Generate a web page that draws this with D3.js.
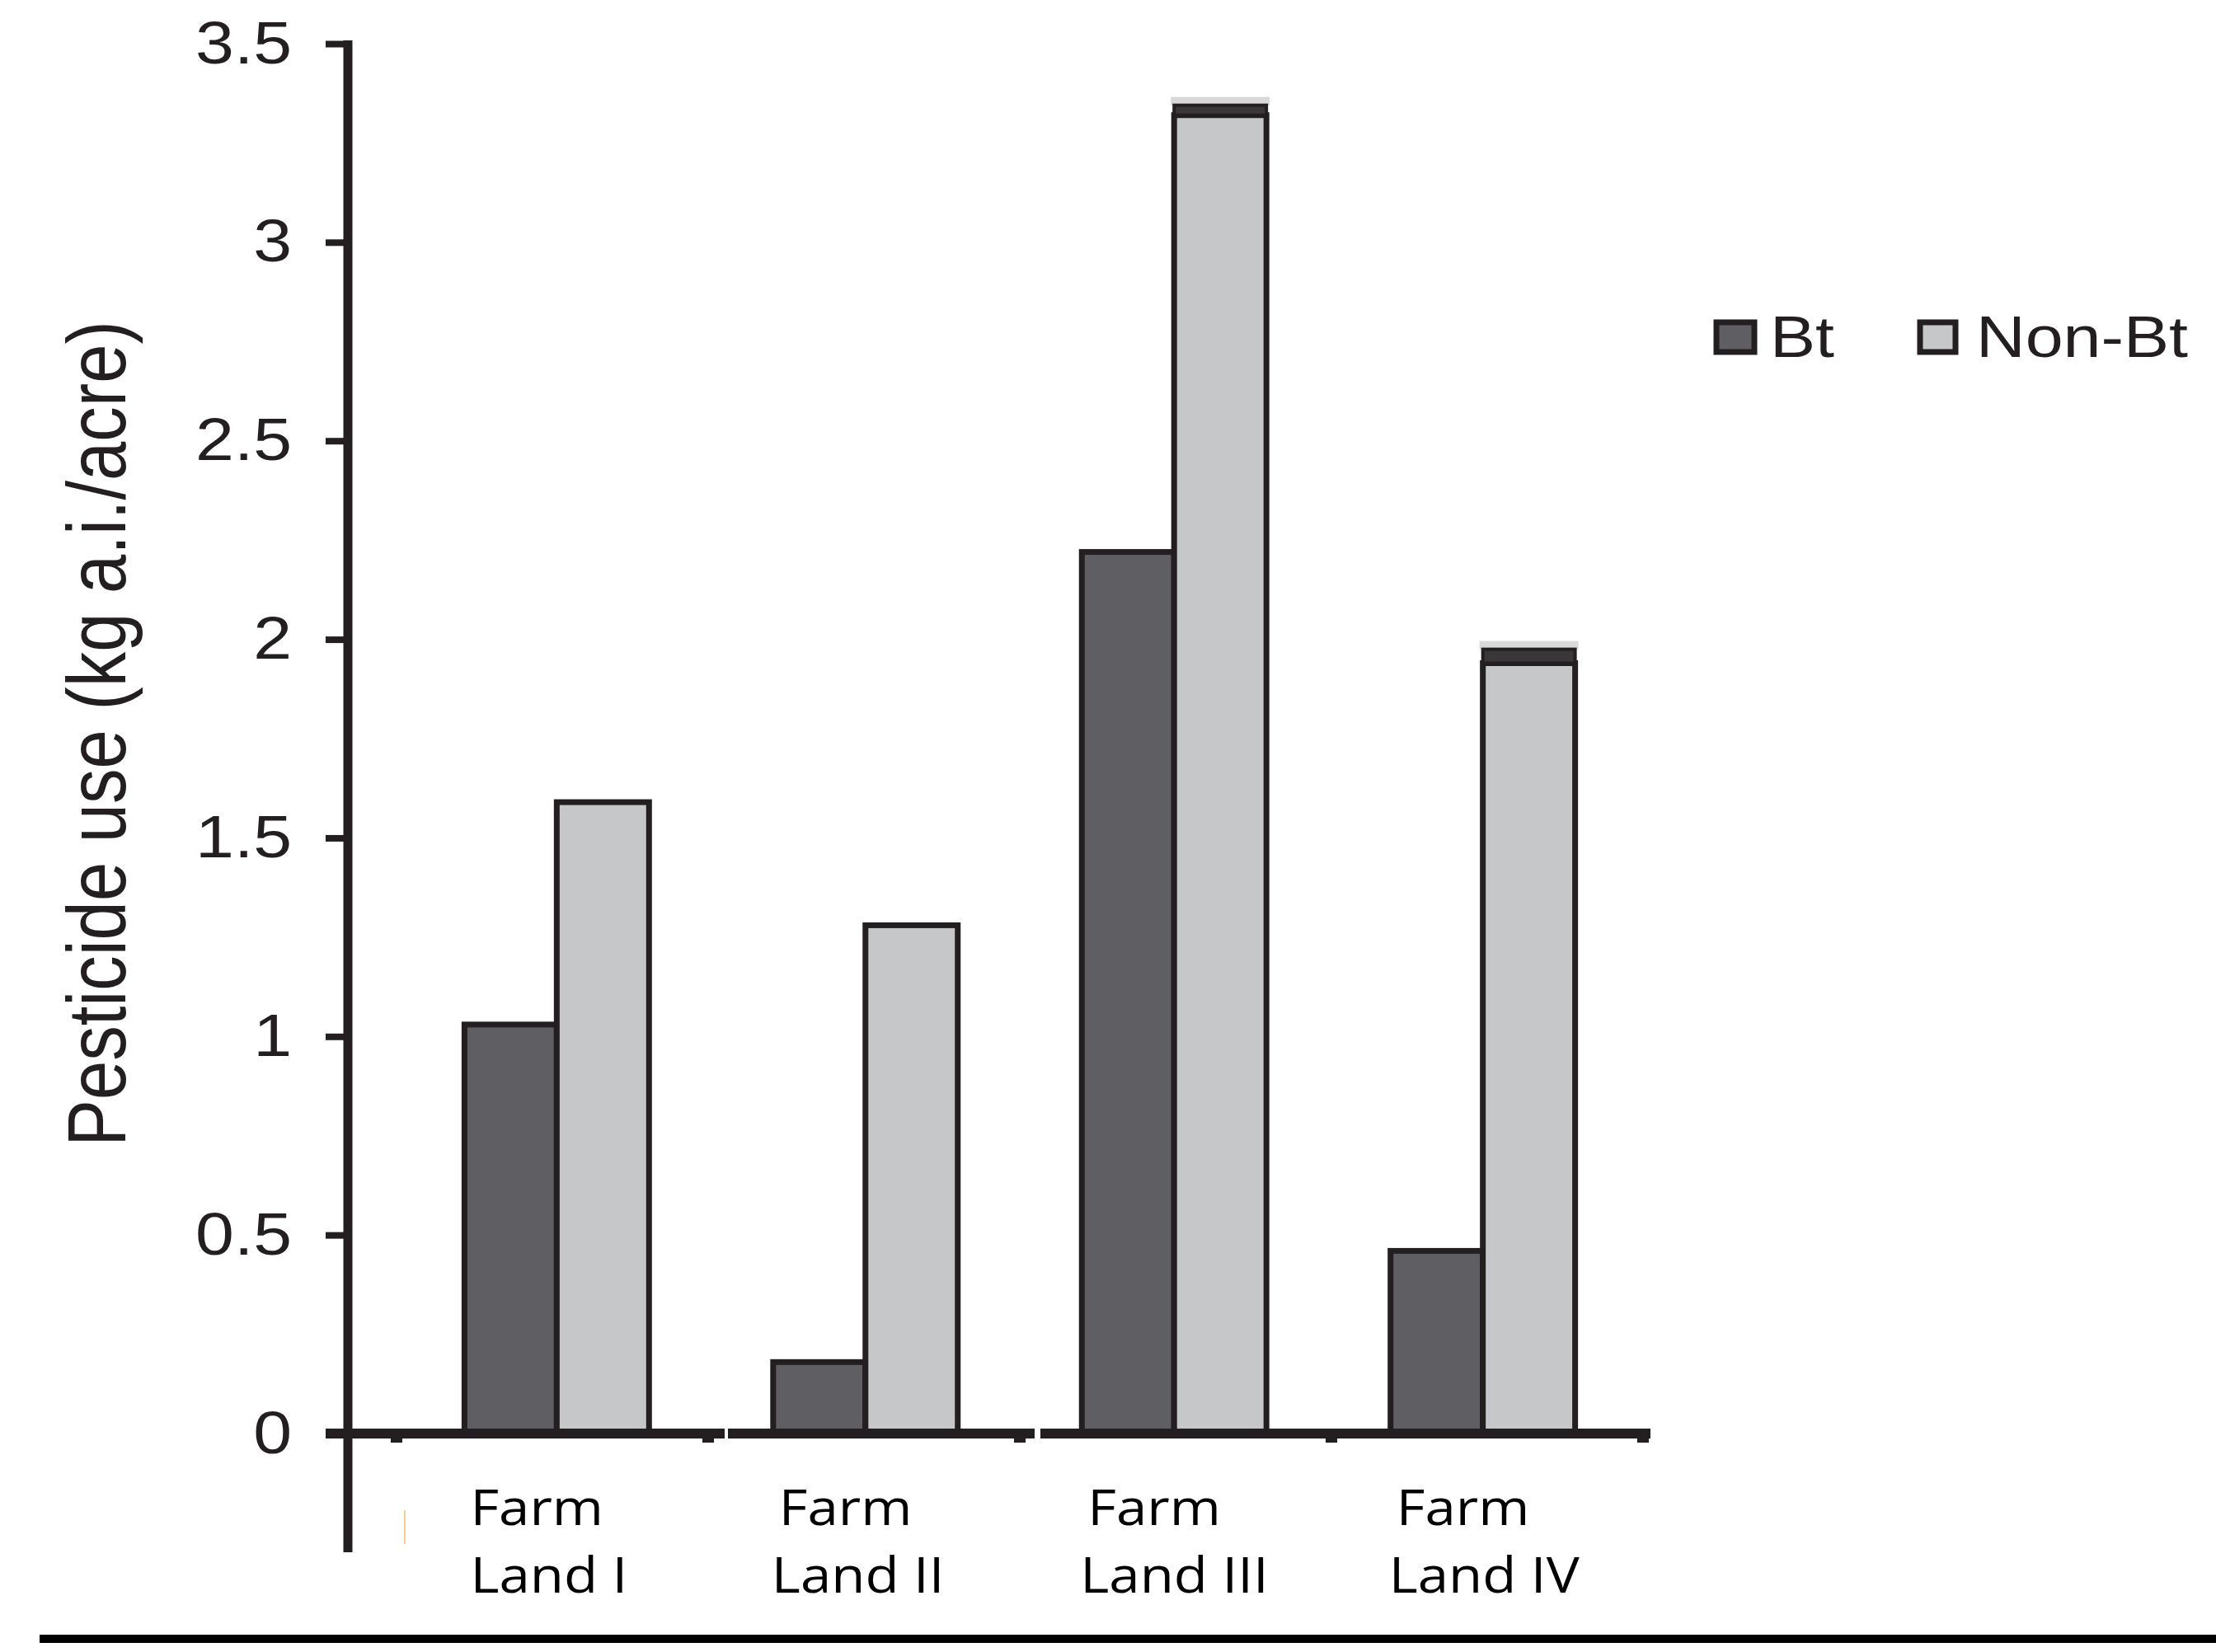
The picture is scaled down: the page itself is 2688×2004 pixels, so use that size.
<!DOCTYPE html>
<html><head><meta charset="utf-8">
<script src="https://cdn.jsdelivr.net/npm/d3@7"></script>
<style>html,body{margin:0;padding:0;background:#fff;}</style>
</head><body>
<svg id="chart" width="2688" height="2004"></svg>
<script>
// ---- data ----
const categories = ["Farm Land I", "Farm Land II", "Farm Land III", "Farm Land IV"];
const catLine1 = ["Farm", "Farm", "Farm", "Farm"];
const catLine2 = ["Land I", "Land II", "Land III", "Land IV"];
const seriesNames = ["Bt", "Non-Bt"];
const btValues = [1.03, 0.18, 2.22, 0.46];
const nonBtValues = [1.59, 1.28, 3.32, 1.94];
const nonBtCapValues = [0, 0, 0.025, 0.035];
const yTickValues = [0, 0.5, 1, 1.5, 2, 2.5, 3, 3.5];
const yTickLabels = ["0", "0.5", "1", "1.5", "2", "2.5", "3", "3.5"];
const yTitle = "Pesticide use (kg a.i./acre)";

// ---- style ----
const INK = "#231f20";
const BT_FILL = "#5f5e63";
const NONBT_FILL = "#c6c7c9";
const STRETCH = 1.18;

const svg = d3.select("#chart");
svg.append("rect").attr("width", 2688).attr("height", 2004).attr("fill", "#fff");

const y = d3.scaleLinear().domain([0, 3.5]).range([1739, 53]);
const x0 = d3.scaleBand().domain(categories).range([481, 1993]).paddingInner(0.402).paddingOuter(0.22);
const x1 = d3.scaleBand().domain(seriesNames).range([0, x0.bandwidth()]).padding(0);

const rows = categories.map((c, i) => ({ c, i, bt: btValues[i], nb: nonBtValues[i], cap: nonBtCapValues[i], l1: catLine1[i], l2: catLine2[i] }));

// ---- bars ----
const gBars = svg.append("g");
const grp = gBars.selectAll("g.grp").data(rows).enter().append("g")
  .attr("transform", d => `translate(${x0(d.c)},0)`);

grp.append("rect")
  .attr("x", x1("Bt")).attr("width", x1.bandwidth())
  .attr("y", d => y(d.bt)).attr("height", d => y(0) - y(d.bt))
  .attr("fill", BT_FILL).attr("stroke", INK).attr("stroke-width", 7);

grp.append("rect")
  .attr("x", x1("Non-Bt")).attr("width", x1.bandwidth())
  .attr("y", d => y(d.nb)).attr("height", d => y(0) - y(d.nb))
  .attr("fill", NONBT_FILL).attr("stroke", INK).attr("stroke-width", 7);

// dark cap segments on some Non-Bt bars
const capped = grp.filter(d => d.cap > 0);
capped.append("rect")
  .attr("x", x1("Non-Bt") - 4).attr("width", x1.bandwidth() + 8)
  .attr("y", d => y(d.nb + d.cap) - 10).attr("height", 10)
  .attr("fill", "#d9d9d9");
capped.append("rect")
  .attr("x", x1("Non-Bt")).attr("width", x1.bandwidth())
  .attr("y", d => y(d.nb + d.cap)).attr("height", d => y(d.nb) - y(d.nb + d.cap))
  .attr("fill", "#3a3738").attr("stroke", INK).attr("stroke-width", 4);

// ---- y axis ----
const yAxis = d3.axisLeft(y).tickValues(yTickValues).tickFormat((d, i) => yTickLabels[i])
  .tickSize(27).tickPadding(31);
const gy = svg.append("g").attr("transform", "translate(422,0)").call(yAxis);
gy.select(".domain").remove();
gy.selectAll(".tick line").attr("stroke", INK).attr("stroke-width", 8);
gy.selectAll(".tick text")
  .attr("font-family", "'Liberation Sans', Arial, sans-serif")
  .attr("font-size", 72).attr("fill", INK)
  .attr("transform", `scale(${1.17},1)`);
svg.append("line").attr("x1", 422).attr("x2", 422).attr("y1", 49).attr("y2", 1883)
  .attr("stroke", INK).attr("stroke-width", 11);

// ---- x axis (broken line segments) ----
const [r0, r1] = x0.range();
const quarter = (r1 - r0) / categories.length;
const boundaries = d3.range(categories.length + 1).map(i => r0 + i * quarter);
const segStarts = [395, boundaries[1] + 24, boundaries[2] + 25];
const segEnds = [boundaries[1] + 20, boundaries[2] + 18, 2002];
segStarts.forEach((s, i) => {
  svg.append("line").attr("x1", s).attr("x2", segEnds[i]).attr("y1", 1739).attr("y2", 1739)
    .attr("stroke", INK).attr("stroke-width", 12);
});
svg.selectAll("rect.xt").data(boundaries).enter().append("rect").attr("class", "xt")
  .attr("x", d => d - 7).attr("y", 1744).attr("width", 14).attr("height", 6).attr("fill", INK);

// ---- x labels ----
const LABEL_STRETCH = 1.12;
const gLab = svg.append("g");
const lab = gLab.selectAll("g").data(rows).enter().append("g");
lab.append("g")
  .attr("transform", d => `translate(${x0(d.c) + 7},1850) scale(${LABEL_STRETCH},1)`)
  .append("text")
  .attr("font-family", "'Open Sans', 'Noto Sans', sans-serif").attr("font-size", 60)
  .attr("fill", "#000").text(d => d.l1);
lab.append("g")
  .attr("transform", d => `translate(${x0(d.c) + (d.i === 0 ? 7 : -2)},1932) scale(${LABEL_STRETCH},1)`)
  .append("text")
  .attr("font-family", "'Open Sans', 'Noto Sans', sans-serif").attr("font-size", 60)
  .attr("fill", "#000").text(d => d.l2);

// stray mark near origin
svg.append("line").attr("x1", 491).attr("x2", 491).attr("y1", 1832).attr("y2", 1873)
  .attr("stroke", "#f5d08a").attr("stroke-width", 2);

// ---- y title ----
svg.append("g").attr("transform", `translate(152,890) scale(${STRETCH},1) rotate(-90)`)
  .append("text").attr("text-anchor", "middle")
  .attr("font-family", "'Liberation Sans', Arial, sans-serif").attr("font-size", 85)
  .attr("fill", INK).text(yTitle);

// ---- legend ----
const legendItems = [
  { name: seriesNames[0], fill: BT_FILL, bx: 2082, bw: 46, tx: 2147 },
  { name: seriesNames[1], fill: NONBT_FILL, bx: 2329, bw: 43, tx: 2397 }
];
const lg = svg.append("g");
legendItems.forEach(it => {
  lg.append("rect").attr("x", it.bx).attr("y", 391).attr("width", it.bw).attr("height", 36)
    .attr("fill", it.fill).attr("stroke", INK).attr("stroke-width", 7);
  lg.append("g").attr("transform", `translate(${it.tx},433) scale(${STRETCH},1)`)
    .append("text").attr("font-family", "'Liberation Sans', Arial, sans-serif")
    .attr("font-size", 70).attr("fill", INK).text(it.name);
});

// ---- bottom rule ----
svg.append("rect").attr("x", 48).attr("y", 1983).attr("width", 2640).attr("height", 10).attr("fill", "#000");
</script>
</body></html>
